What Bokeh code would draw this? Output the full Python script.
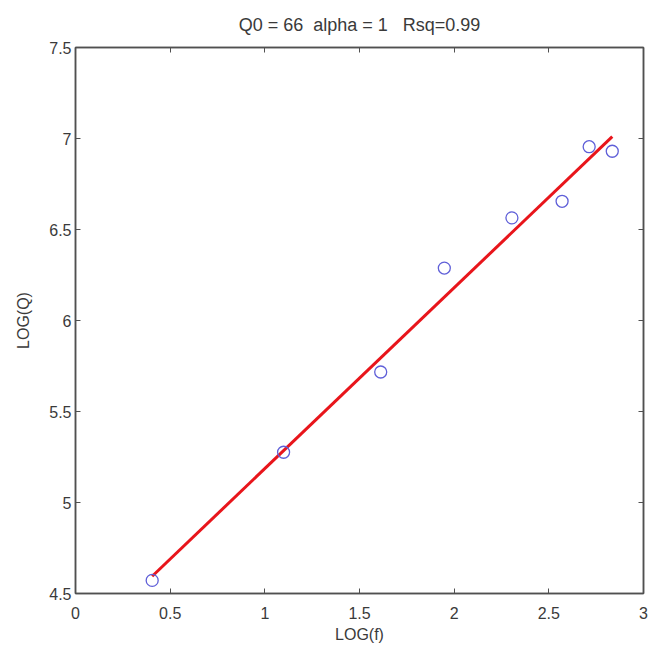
from bokeh.plotting import figure
from bokeh.models import Range1d, FixedTicker, LinearAxis
from bokeh.embed import file_html
from bokeh.resources import INLINE

# data: log(f) vs log(Q)
log_f = [0.405, 1.099, 1.612, 1.948, 2.305, 2.570, 2.713, 2.835]
log_q = [4.572, 5.276, 5.717, 6.288, 6.564, 6.655, 6.955, 6.930]

# fitted line endpoints (Q0 = 66, alpha = 1)
fit_x = [0.405, 2.835]
fit_y = [4.595, 7.010]

x_ticks = [0, 0.5, 1, 1.5, 2, 2.5, 3]
x_tick_labels = ["0", "0.5", "1", "1.5", "2", "2.5", "3"]
y_ticks = [4.5, 5, 5.5, 6, 6.5, 7, 7.5]
y_tick_labels = ["4.5", "5", "5.5", "6", "6.5", "7", "7.5"]

title_text = "Q0 = 66\u00a0\u00a0alpha = 1\u00a0\u00a0\u00a0Rsq=0.99"
x_label = "LOG(f)"
y_label = "LOG(Q)"

FONT = "Liberation Sans"
TXT = "#3a3a3a"
AX = "#505050"

p = figure(width=648, height=645, output_backend="svg", toolbar_location=None,
           x_range=Range1d(0, 3), y_range=Range1d(4.5, 7.5),
           min_border_left=75, min_border_right=5, min_border_top=46,
           min_border_bottom=52, x_axis_location=None, y_axis_location=None)
p.grid.visible = False
p.outline_line_color = AX
p.outline_line_width = 1.5
p.background_fill_color = "white"
p.border_fill_color = "white"

p.title.text = title_text
p.title.align = "center"
p.title.text_font = FONT
p.title.text_font_size = "18px"
p.title.text_font_style = "normal"
p.title.text_color = TXT
p.title.standoff = 25

def style_axis(ax, ticks, labels, show_labels=True):
    ax.ticker = FixedTicker(ticks=ticks)
    ax.major_label_overrides = {t: l for t, l in zip(ticks, labels)}
    ax.major_tick_in = 5
    ax.major_tick_out = 0
    ax.minor_tick_in = 0
    ax.minor_tick_out = 0
    ax.axis_line_color = AX
    ax.axis_line_width = 1.5
    ax.major_tick_line_color = AX
    ax.major_tick_line_width = 1
    ax.major_label_text_font = FONT
    ax.major_label_text_font_size = "16px"
    ax.major_label_text_color = TXT
    ax.axis_label_text_font = FONT
    ax.axis_label_text_font_size = "16px"
    ax.axis_label_text_font_style = "normal"
    ax.axis_label_text_color = TXT
    if not show_labels:
        ax.major_label_text_font_size = "0px"
        ax.major_label_text_alpha = 0

xb = LinearAxis(axis_label=x_label)
style_axis(xb, x_ticks, x_tick_labels)
xb.major_label_standoff = 13
xb.axis_label_standoff = 4
p.add_layout(xb, "below")

yl = LinearAxis(axis_label=y_label)
style_axis(yl, y_ticks, y_tick_labels)
yl.major_label_standoff = 4
yl.axis_label_standoff = 14
p.add_layout(yl, "left")

xt = LinearAxis()
style_axis(xt, x_ticks, x_tick_labels, show_labels=False)
p.add_layout(xt, "above")

yr = LinearAxis()
style_axis(yr, y_ticks, y_tick_labels, show_labels=False)
p.add_layout(yr, "right")

p.line(fit_x, fit_y, line_color="#e8151b", line_width=3)
p.scatter(log_f, log_q, marker="circle", size=12, fill_color=None,
          line_color="#5f5fd8", line_width=1.3)

open("out.html", "w").write(file_html(p, INLINE))
